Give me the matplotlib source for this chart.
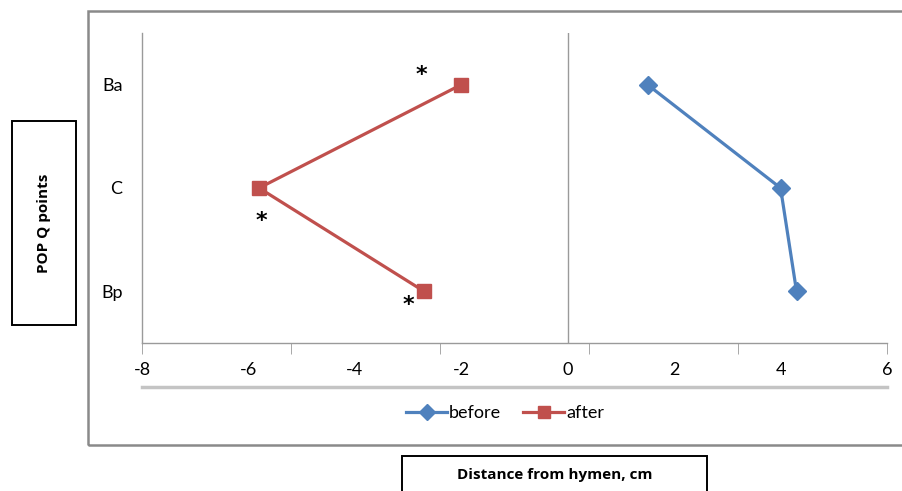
import matplotlib.pyplot as plt
import numpy as np
from matplotlib.patches import Rectangle
from matplotlib.lines import Line2D

plt.rcParams['font.family'] = ['Lato', 'DejaVu Sans']

points = ['Ba', 'C', 'Bp']
before = [1.5, 4.0, 4.3]
after = [-2.0, -5.8, -2.7]
xticks = [-8, -6, -4, -2, 0, 2, 4, 6]
# asterisks next to the "after" points (x, y offset in data units)
star_x = [-2.75, -5.75, -3.0]
star_dy = [0.09, -0.32, -0.13]

ypos = [3, 2, 1]
blue = '#4F81BD'
red = '#C0504D'
gray = '#9a9a9a'

W, H = 903, 491
fig = plt.figure(figsize=(W / 100, H / 100), dpi=100)
ax = fig.add_axes([142 / W, 1 - 343 / H, (887 - 142) / W, (343 - 33) / H])

ax.plot(before, ypos, color=blue, lw=2.3, marker='D', ms=9, label='before')
ax.plot(after, ypos, color=red, lw=2.3, marker='s', ms=10.5, label='after')
for sx, y, dy in zip(star_x, ypos, star_dy):
    ax.text(sx, y + dy, '*', fontsize=16, fontweight='bold', ha='center', va='center',
            family='DejaVu Sans')

ax.set_xlim(-8, 6)
ax.set_ylim(0.5, 3.5)
ax.axvline(0, color=gray, lw=1)

for s in ['top', 'right']:
    ax.spines[s].set_visible(False)
for s in ['left', 'bottom']:
    ax.spines[s].set_color(gray)
    ax.spines[s].set_linewidth(1)

ax.set_yticks(ypos)
ax.set_yticklabels(points, fontsize=13)
ax.tick_params(axis='y', length=0, pad=14)

ax.xaxis.remove_overlapping_locs = False
ax.set_xticks(xticks)
ax.set_xticklabels([str(t) for t in xticks], fontsize=13)
ax.set_xticks(np.linspace(-8, 6, 6), minor=True)
ax.tick_params(axis='x', which='major', length=0, pad=14)
ax.tick_params(axis='x', which='minor', length=8, color=gray, direction='out')

# thick line under the tick labels
ax.plot([-8, 6], [-0.142, -0.142], transform=ax.get_xaxis_transform(),
        color='#c4c4c4', lw=2.5, clip_on=False)

handles = [Line2D([], [], color=blue, lw=2.3, marker='D', ms=8),
           Line2D([], [], color=red, lw=2.3, marker='s', ms=9)]
fig.legend(handles, ['before', 'after'], loc='center', bbox_to_anchor=(505 / W, 1 - 413 / H),
           ncol=2, frameon=False, fontsize=13, handlelength=2.3, handletextpad=0.1,
           columnspacing=1.2)

# outer chart frame
fig.add_artist(Rectangle((88 / W, 1 - 445 / H), (915 - 88) / W, (445 - 11) / H,
                         transform=fig.transFigure, fill=False, ec='#8a8a8a', lw=1.8))

# axis title boxes
fig.add_artist(Rectangle((12 / W, 1 - 325 / H), 64 / W, 204 / H,
                         transform=fig.transFigure, fill=False, ec='black', lw=1.4))
fig.text(44 / W, 1 - 223 / H, 'POP Q points', rotation=90, ha='center', va='center',
         fontsize=11, fontweight='bold', family=['Open Sans', 'DejaVu Sans'])
fig.add_artist(Rectangle((402 / W, 1 - 500 / H), 305 / W, 44 / H,
                         transform=fig.transFigure, fill=False, ec='black', lw=1.4, clip_on=False))
fig.text(555 / W, 1 - 475 / H, 'Distance from hymen, cm', ha='center', va='center',
         fontsize=11, fontweight='bold', family=['Open Sans', 'DejaVu Sans'])

fig.savefig('out.png', dpi=100)
